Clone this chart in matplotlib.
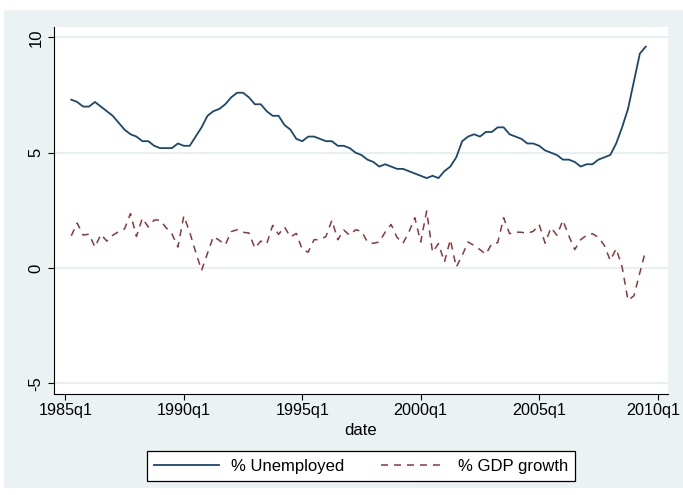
import numpy as np
import matplotlib
matplotlib.use("Agg")
import matplotlib.pyplot as plt
from matplotlib.patches import Rectangle
from matplotlib.transforms import ScaledTranslation

plt.rcParams['font.family'] = ['Liberation Sans', 'DejaVu Sans']

# Quarterly data, 1985q2 .. 2009q3 (Stata quarterly date: 1985q1 = 100)
first_quarter = 101
unemployed = [
    7.3, 7.2, 7.0,
    7.0, 7.2, 7.0, 6.8,
    6.6, 6.3, 6.0, 5.8,
    5.7, 5.5, 5.5, 5.3,
    5.2, 5.2, 5.2, 5.4,
    5.3, 5.3, 5.7, 6.1,
    6.6, 6.8, 6.9, 7.1,
    7.4, 7.6, 7.6, 7.4,
    7.1, 7.1, 6.8, 6.6,
    6.6, 6.2, 6.0, 5.6,
    5.5, 5.7, 5.7, 5.6,
    5.5, 5.5, 5.3, 5.3,
    5.2, 5.0, 4.9, 4.7,
    4.6, 4.4, 4.5, 4.4,
    4.3, 4.3, 4.2, 4.1,
    4.0, 3.9, 4.0, 3.9,
    4.2, 4.4, 4.8, 5.5,
    5.7, 5.8, 5.7, 5.9,
    5.9, 6.1, 6.1, 5.8,
    5.7, 5.6, 5.4, 5.4,
    5.3, 5.1, 5.0, 4.9,
    4.7, 4.7, 4.6, 4.4,
    4.5, 4.5, 4.7, 4.8,
    4.9, 5.4, 6.1, 6.9,
    8.1, 9.3, 9.6,
]
gdp_growth = [
    1.40, 1.95, 1.43,
    1.47, 0.91, 1.46, 1.17,
    1.42, 1.58, 1.70, 2.36,
    1.37, 2.16, 1.78, 2.08,
    2.08, 1.75, 1.48, 0.91,
    2.26, 1.55, 0.70, -0.10,
    0.64, 1.37, 1.20, 1.00,
    1.58, 1.66, 1.55, 1.52,
    0.86, 1.17, 1.05, 1.85,
    1.46, 1.78, 1.35, 1.50,
    0.80, 0.69, 1.23, 1.23,
    1.37, 2.07, 1.23, 1.65,
    1.42, 1.66, 1.60, 1.13,
    1.07, 1.13, 1.56, 1.89,
    1.33, 1.07, 1.56, 2.18,
    1.13, 2.47, 0.69, 1.06,
    0.26, 1.23, 0.04, 0.55,
    1.13, 0.98, 0.80, 0.60,
    1.06, 1.10, 2.18, 1.49,
    1.56, 1.55, 1.51, 1.59,
    1.89, 1.08, 1.75, 1.42,
    2.07, 1.40, 0.80, 1.23,
    1.42, 1.49, 1.33, 0.98,
    0.33, 0.84, 0.05, -1.40,
    -1.20, -0.20, 0.78,
]
x_ticks = [100, 120, 140, 160, 180, 200]
x_tick_labels = ["1985q1", "1990q1", "1995q1", "2000q1", "2005q1", "2010q1"]
y_ticks = [-5, 0, 5, 10]

dates = first_quarter + np.arange(len(unemployed))

BG = "#EAF2F3"
GRID = "#E2EBEE"
NAVY = "#1A476F"
MAROON = "#90353B"

fig = plt.figure(figsize=(6.83, 4.95), dpi=100, facecolor="white")
fig.patches.append(Rectangle((4 / 683, 7 / 495), 1 - 4 / 683, 478 / 495,
                             transform=fig.transFigure, facecolor=BG,
                             edgecolor="none", zorder=-10))

ax = fig.add_axes([53.5 / 683, 101 / 495, (668 - 53.5) / 683, (394 - 27) / 495])
ax.set_facecolor("white")

ax.plot(dates, unemployed, color=NAVY, lw=1.3, label="% Unemployed",
        solid_joinstyle="round")
ax.plot(dates, gdp_growth, color=MAROON, lw=1.1, dashes=(4.6, 3.9),
        label="% GDP growth")

ax.set_xlim(98, 201.75)
ax.set_ylim(-5.46, 10.45)
ax.set_xticks(x_ticks)
ax.set_xticklabels(x_tick_labels)
ax.set_yticks(y_ticks)
ax.set_yticklabels([str(v) for v in y_ticks], rotation=90, va="center")

for v in y_ticks:
    ax.axhline(v, color=GRID, lw=1.1, zorder=0)

for side in ("top", "right"):
    ax.spines[side].set_visible(False)
for side in ("left", "bottom"):
    ax.spines[side].set_color("black")
    ax.spines[side].set_linewidth(0.8)

ax.tick_params(axis="both", direction="out", length=4.3, width=0.8,
               color="black", labelsize=12, labelcolor="black")
ax.tick_params(axis="x", labelsize=11.6, pad=2.5)
ax.tick_params(axis="y", pad=3)
ax.set_xlabel("date", fontsize=12, labelpad=3)

# keep the last date label inside the figure edge
last = ax.get_xticklabels()[-1]
last.set_transform(last.get_transform()
                   + ScaledTranslation(-4 / 100, 0, fig.dpi_scale_trans))

leg = fig.legend(loc="center", bbox_to_anchor=(361 / 683, 29 / 495),
                 ncol=2, fontsize=12, frameon=True, fancybox=False,
                 edgecolor="black", facecolor="white", framealpha=1,
                 handlelength=3.9, handletextpad=0.7, columnspacing=2.2,
                 borderpad=0.45, borderaxespad=0)
leg.get_frame().set_linewidth(0.9)

fig.savefig("out.png", dpi=100, facecolor="white")
